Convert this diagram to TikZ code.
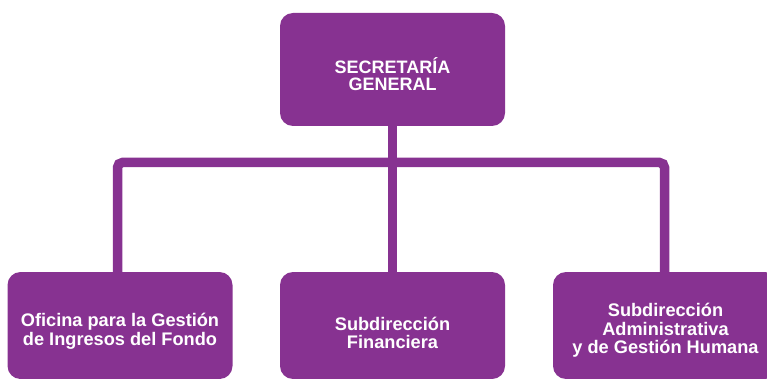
\documentclass[tikz,border=0pt]{standalone}
\usepackage{fontspec}
\setmainfont{Liberation Sans}
\definecolor{morado}{RGB}{135,50,145}
\newcommand{\boxtext}[3]{\parbox{#1}{\vspace*{#2}\centering #3}}
\begin{document}
\begin{tikzpicture}[x=1pt,y=-1pt,
  box/.style={fill=morado, draw=none, rounded corners=13pt, minimum width=225pt,
    text=white, font=\bfseries, align=center, inner sep=0pt},
  topbox/.style={box, minimum height=113pt, font=\bfseries\fontsize{18}{17}\selectfont},
  subbox/.style={box, minimum height=107pt, font=\bfseries\fontsize{18.2}{18.7}\selectfont},
  conn/.style={draw=morado, line width=9.5pt}]
\useasboundingbox (0,0) rectangle (767,379);
\node[topbox] (sg) at (392.5,69.5) {\boxtext{210pt}{10pt}{SECRETARÍA\\GENERAL}};
\node[subbox] (ofi) at (120,325.5) {\boxtext{224pt}{12pt}{Oficina para la Gestión\\de Ingresos del Fondo}};
\node[subbox] (fin) at (392.5,325.5) {\boxtext{220pt}{15pt}{Subdirección\\Financiera}};
\node[subbox] (adm) at (665.5,325.5) {\boxtext{220pt}{10pt}{Subdirección\\Administrativa\\y de Gestión Humana}};
\coordinate (bar) at (392.5,162.5);
\draw[conn] (sg.south) -- (fin.north);
\draw[conn, rounded corners=5pt] ([xshift=-2.5pt]ofi.north) |- (bar) -| ([xshift=-1pt]adm.north);
\end{tikzpicture}
\end{document}
